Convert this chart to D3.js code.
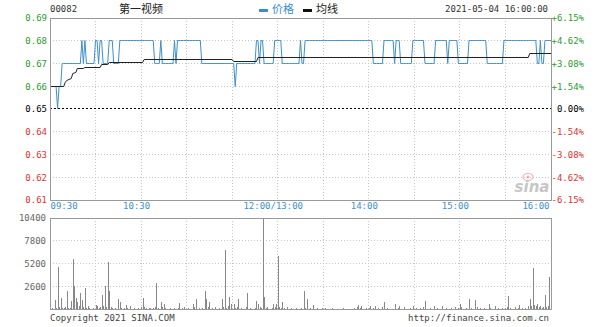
<!DOCTYPE html>
<html lang="zh">
<head>
<meta charset="UTF-8">
<title>00082 第一视频 分时</title>
<style>
  body { margin: 0; background: #fff; }
  svg { display: block; font-family: "DejaVu Sans Mono", "Liberation Mono", monospace; }
  .grid line { stroke: #c4c4c4; stroke-dasharray: 1,2; shape-rendering: crispEdges; }
  .frame { fill: none; stroke: #999; shape-rendering: crispEdges; }
  .axis .domain, .axis line { display: none; }
  .cjk { font-family: "Noto Sans CJK SC", sans-serif; }
</style>
</head>
<body>
<svg id="chart" width="600" height="327"></svg>
<script src="https://cdn.jsdelivr.net/npm/d3@7/dist/d3.min.js"></script>
<script>
// header
var code = "00082", stockName = "第一视频", stamp = "2021-05-04 16:00:00";
var legendNames = ["价格", "均线"];
var preClose = 0.65;

// axes
var priceTicks = [0.69, 0.68, 0.67, 0.66, 0.65, 0.64, 0.63, 0.62, 0.61];
var pctLabels = ["+6.15%", "+4.62%", "+3.08%", "+1.54%", "0.00%", "-1.54%", "-3.08%", "-4.62%", "-6.15%"];
var timeTicks = [0, 60, 150, 210, 270, 330];      // minutes from 09:30 (lunch removed)
var timeLabels = ["09:30", "10:30", "12:00/13:00", "14:00", "15:00", "16:00"];
var volTicks = [10400, 7800, 5200, 2600];

// price for each minute, 0..330
var price = [
  0.66,0.66,0.66,0.66,0.66,0.65,0.66,0.66,0.67,0.67,
  0.67,0.67,0.67,0.67,0.67,0.67,0.67,0.67,0.67,0.67,
  0.67,0.68,0.67,0.68,0.67,0.67,0.67,0.67,0.67,0.67,
  0.68,0.68,0.67,0.68,0.68,0.67,0.67,0.67,0.67,0.68,
  0.68,0.68,0.67,0.67,0.67,0.67,0.68,0.68,0.68,0.68,
  0.68,0.68,0.68,0.68,0.68,0.68,0.68,0.68,0.68,0.68,
  0.68,0.68,0.68,0.68,0.68,0.68,0.68,0.68,0.68,0.67,
  0.67,0.67,0.67,0.68,0.67,0.67,0.67,0.67,0.67,0.67,
  0.67,0.67,0.68,0.67,0.68,0.68,0.68,0.68,0.68,0.68,
  0.68,0.68,0.68,0.68,0.68,0.68,0.68,0.68,0.68,0.68,
  0.67,0.67,0.67,0.67,0.67,0.67,0.67,0.67,0.67,0.67,
  0.67,0.67,0.67,0.67,0.67,0.67,0.67,0.67,0.67,0.67,
  0.67,0.67,0.66,0.67,0.67,0.67,0.67,0.67,0.67,0.67,
  0.67,0.67,0.67,0.67,0.67,0.67,0.68,0.68,0.67,0.68,
  0.68,0.67,0.67,0.67,0.67,0.67,0.67,0.67,0.68,0.68,
  0.68,0.68,0.68,0.67,0.67,0.67,0.67,0.67,0.67,0.67,
  0.67,0.67,0.67,0.67,0.67,0.68,0.67,0.67,0.68,0.68,
  0.68,0.68,0.68,0.68,0.68,0.68,0.68,0.68,0.68,0.68,
  0.68,0.68,0.68,0.68,0.68,0.68,0.68,0.68,0.68,0.68,
  0.68,0.68,0.68,0.68,0.68,0.68,0.68,0.68,0.68,0.68,
  0.68,0.68,0.68,0.68,0.68,0.68,0.68,0.68,0.68,0.68,
  0.68,0.68,0.68,0.67,0.67,0.67,0.67,0.67,0.67,0.67,
  0.68,0.68,0.68,0.68,0.68,0.68,0.68,0.67,0.68,0.68,
  0.68,0.67,0.67,0.67,0.67,0.67,0.67,0.67,0.67,0.68,
  0.68,0.68,0.68,0.68,0.68,0.68,0.68,0.67,0.67,0.67,
  0.67,0.67,0.67,0.67,0.68,0.68,0.68,0.68,0.68,0.68,
  0.68,0.68,0.67,0.68,0.68,0.68,0.68,0.68,0.68,0.67,
  0.67,0.67,0.67,0.67,0.67,0.67,0.68,0.68,0.68,0.68,
  0.68,0.68,0.68,0.68,0.68,0.68,0.68,0.68,0.67,0.67,
  0.67,0.67,0.67,0.67,0.67,0.67,0.67,0.67,0.67,0.68,
  0.68,0.68,0.68,0.68,0.68,0.68,0.68,0.68,0.68,0.68,
  0.68,0.68,0.68,0.68,0.68,0.68,0.68,0.68,0.68,0.68,
  0.68,0.67,0.67,0.68,0.67,0.67,0.68,0.68,0.68,0.68,
  0.68
];

// average line, read at these minutes
var avgMin = [0, 9, 10, 11, 14, 15, 17, 18, 22, 23, 33, 34, 38, 39, 61, 62, 120, 121, 136, 137, 315, 316, 330];
var avgVal = [0.660, 0.660, 0.6618, 0.6625, 0.6632, 0.6654, 0.6662, 0.6676, 0.6676, 0.6684, 0.6684, 0.6694,
              0.6694, 0.6706, 0.6706, 0.6718, 0.6718, 0.6708, 0.6708, 0.6728, 0.6728, 0.6742, 0.6742];

// volume for each minute, 0..330
var volume = [
  200,100,0,1050,150,4850,200,1250,150,100,
  200,2100,100,150,950,5750,2600,1250,850,300,
  1800,1050,200,2400,150,400,100,0,100,0,
  500,300,100,200,1650,300,2600,200,5400,2100,
  200,100,0,100,0,1100,850,100,0,100,
  500,100,0,350,0,100,0,0,100,0,
  200,1250,200,150,0,100,100,0,100,200,
  3000,100,0,850,200,580,100,0,0,100,
  0,0,150,0,100,700,0,100,200,0,
  0,100,0,0,580,200,1150,0,100,0,
  100,0,2100,1100,200,750,0,100,0,200,
  0,100,0,1150,200,6750,100,300,1350,600,
  0,580,100,200,1100,0,100,0,0,200,
  1800,0,100,0,0,100,950,580,200,100,
  10400,1350,100,200,0,0,100,580,200,580,
  6100,200,100,850,100,0,250,0,0,100,
  0,0,100,0,0,100,0,2100,100,1100,
  0,100,0,430,0,0,100,0,0,100,
  0,100,0,0,0,0,100,0,0,0,
  0,0,0,100,0,0,0,0,0,0,
  100,0,200,450,100,400,0,0,100,0,
  100,400,0,150,400,0,100,0,0,200,
  750,0,100,0,0,0,0,560,0,100,
  350,0,0,200,0,0,0,100,0,400,
  0,100,0,0,100,0,200,880,0,0,
  100,0,0,300,0,100,0,0,400,0,
  0,100,0,0,100,0,0,200,0,100,
  560,200,0,0,100,0,1100,100,0,0,
  1000,200,0,100,0,0,100,0,0,560,
  100,0,0,350,0,100,0,0,100,0,
  100,200,1470,100,0,0,200,0,100,430,
  0,100,0,100,0,300,1100,300,4650,500,
  300,560,200,350,100,200,1600,200,300,3650,
  0
];

var left = 50, right = 551,
    pTop = 18, pBot = 200,
    vTop = 218, vBot = 309,
    blue = "#3d8fcc", green = "#2e9a2e", red = "#dd3333";

var svg = d3.select("#chart");
var x = d3.scaleLinear().domain([0, 330]).range([left, right]);
var y = d3.scaleLinear().domain([0.61, 0.69]).range([pBot, pTop]);
var yv = d3.scaleLinear().domain([0, 10400]).range([vBot, vTop]);
var px = function (v) { return Math.floor(v) + 0.5; };

var gridMins = d3.range(30, 330, 30);

function colorFor(p) {
  if (Math.abs(p - preClose) < 1e-9) return "#000";
  return p > preClose ? green : red;
}

// ---- header
svg.append("text").attr("x", 50).attr("y", 12).attr("font-size", 9).attr("fill", "#333").text(code);
svg.append("text").attr("class", "cjk").attr("x", 119).attr("y", 13).attr("font-size", 11).attr("fill", "#222").text(stockName);
svg.append("rect").attr("x", 259).attr("y", 9).attr("width", 9).attr("height", 3).attr("fill", blue);
svg.append("text").attr("class", "cjk").attr("x", 272).attr("y", 13).attr("font-size", 11).attr("fill", blue).text(legendNames[0]);
svg.append("rect").attr("x", 303).attr("y", 9).attr("width", 9).attr("height", 3).attr("fill", "#111");
svg.append("text").attr("class", "cjk").attr("x", 316).attr("y", 13).attr("font-size", 11).attr("fill", "#222").text(legendNames[1]);
svg.append("text").attr("x", 548).attr("y", 12).attr("font-size", 9).attr("fill", "#333")
  .attr("text-anchor", "end").text(stamp);

// ---- price panel grid
var pg = svg.append("g").attr("class", "grid");
pg.selectAll(".h").data(priceTicks.filter(function (p) { return p !== preClose; }))
  .enter().append("line")
  .attr("x1", left).attr("x2", right)
  .attr("y1", function (d) { return px(y(d)); }).attr("y2", function (d) { return px(y(d)); });
pg.selectAll(".v").data(gridMins).enter().append("line")
  .attr("x1", function (d) { return px(x(d)); }).attr("x2", function (d) { return px(x(d)); })
  .attr("y1", pTop).attr("y2", pBot);

svg.append("line")
  .attr("x1", left).attr("x2", right)
  .attr("y1", px(y(preClose))).attr("y2", px(y(preClose)))
  .attr("stroke", "#000").attr("stroke-dasharray", "2,2")
  .attr("shape-rendering", "crispEdges");

// sina watermark
var wm = svg.append("g").attr("opacity", 0.55);
wm.append("ellipse").attr("cx", 528).attr("cy", 177).attr("rx", 5).attr("ry", 3.5)
  .attr("fill", "none").attr("stroke", "#e07a7a").attr("stroke-width", 1.2);
wm.append("circle").attr("cx", 528).attr("cy", 177).attr("r", 1.6).attr("fill", "#e07a7a");
wm.append("text").attr("x", 532).attr("y", 192).attr("text-anchor", "middle")
  .attr("font-family", "DejaVu Sans, sans-serif").attr("font-style", "italic").attr("font-weight", "bold")
  .attr("font-size", 15).attr("fill", "#999").text("sina");

// ---- lines
var priceLine = d3.line()
  .x(function (d, i) { return x(i); })
  .y(function (d) { return px(y(d)); });
svg.append("path").datum(price)
  .attr("d", priceLine)
  .attr("fill", "none").attr("stroke", blue).attr("stroke-width", 1);

var avgLine = d3.line()
  .x(function (d) { return x(d[0]); })
  .y(function (d) { return px(y(d[1])); });
svg.append("path").datum(d3.zip(avgMin, avgVal))
  .attr("d", avgLine)
  .attr("fill", "none").attr("stroke", "#222").attr("stroke-width", 1);

svg.append("rect").attr("class", "frame")
  .attr("x", left + 0.5).attr("y", pTop + 0.5)
  .attr("width", right - left).attr("height", pBot - pTop);

// ---- price axes
var ya = svg.append("g").attr("class", "axis")
  .attr("transform", "translate(" + left + ",0)")
  .call(d3.axisLeft(y).tickValues(priceTicks).tickSize(0).tickPadding(3).tickFormat(d3.format(".2f")))
  .attr("font-family", null).attr("font-size", 9);
ya.selectAll("text").attr("fill", colorFor);

var yr = svg.append("g").attr("class", "axis")
  .attr("transform", "translate(" + right + ",0)")
  .call(d3.axisRight(y).tickValues(priceTicks).tickSize(0)
    .tickFormat(function (d, i) { return pctLabels[i]; }))
  .attr("font-family", null).attr("font-size", 9);
yr.selectAll("text").attr("fill", colorFor).attr("text-anchor", "end").attr("x", 33);

var xa = svg.append("g").attr("class", "axis")
  .attr("transform", "translate(0," + pBot + ")")
  .call(d3.axisBottom(x).tickValues(timeTicks).tickSize(0).tickPadding(3)
    .tickFormat(function (d, i) { return timeLabels[i]; }))
  .attr("font-family", null).attr("font-size", 9);
xa.selectAll("text").attr("fill", blue)
  .attr("text-anchor", function (d, i) { return i === 0 ? "start" : (i === timeTicks.length - 1 ? "end" : "middle"); })
  .attr("dx", function (d, i) { return i === 0 ? 0 : (i === timeTicks.length - 1 ? -2 : -5); });

// ---- volume panel
var vg = svg.append("g").attr("class", "grid");
vg.selectAll(".h").data(volTicks.slice(1)).enter().append("line")
  .attr("x1", left).attr("x2", right)
  .attr("y1", function (d) { return px(yv(d)); }).attr("y2", function (d) { return px(yv(d)); });
vg.selectAll(".v").data(gridMins).enter().append("line")
  .attr("x1", function (d) { return px(x(d)); }).attr("x2", function (d) { return px(x(d)); })
  .attr("y1", vTop).attr("y2", vBot);

svg.append("g").selectAll("rect")
  .data(volume.map(function (v, i) { return [i, v]; }).filter(function (d) { return d[1] > 0; }))
  .enter().append("rect")
  .attr("x", function (d) { return Math.round(x(d[0])); })
  .attr("y", function (d) { return yv(d[1]); })
  .attr("width", 1)
  .attr("height", function (d) { return vBot - yv(d[1]); })
  .attr("fill", "#888")
  .attr("shape-rendering", "crispEdges");

svg.append("rect").attr("class", "frame")
  .attr("x", left + 0.5).attr("y", vTop + 0.5)
  .attr("width", right - left).attr("height", vBot - vTop);

var va = svg.append("g").attr("class", "axis")
  .attr("transform", "translate(" + left + ",0)")
  .call(d3.axisLeft(yv).tickValues(volTicks).tickSize(0).tickPadding(4).tickFormat(d3.format("d")))
  .attr("font-family", null).attr("font-size", 9);
va.selectAll("text").attr("fill", "#666");

// ---- footer
svg.append("text").attr("x", 50).attr("y", 321).attr("font-size", 9).attr("fill", "#444")
  .text("Copyright 2021 SINA.COM");
svg.append("text").attr("x", 549).attr("y", 321).attr("font-size", 9).attr("fill", "#444")
  .attr("text-anchor", "end").text("http://finance.sina.com.cn");
</script>
</body>
</html>
